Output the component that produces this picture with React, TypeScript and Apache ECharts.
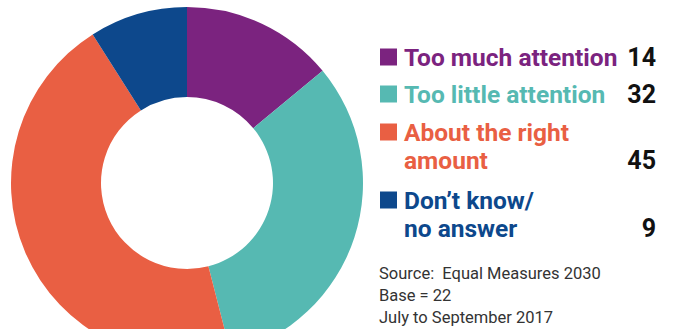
import React, { useEffect, useRef } from "react";
import * as echarts from "echarts";

const categories = ["Too much attention", "Too little attention", "About the right\namount", "Don\u2019t know/\nno answer"];
const values = [14, 32, 45, 9];
const colors = ["#7B237F", "#56B9B2", "#E95F43", "#0D488C"];
const sourceLines = ["Source:  Equal Measures 2030", "Base = 22", "July to September 2017"];

export default function App() {
  const ref = useRef<HTMLDivElement>(null);
  useEffect(() => {
    if (!ref.current) return;
    const chart = echarts.init(ref.current, null, { renderer: "svg" });
    const rowY = [57, 94, 132, 200];
    const lineH = 28;
    const font = "Roboto, 'Noto Sans', sans-serif";
    const graphics: any[] = [];
    categories.forEach((c, i) => {
      const lines = c.split("\n");
      const top = rowY[i];
      graphics.push({
        type: "rect",
        shape: { x: 380, y: top - 8.5, width: 17, height: 17 },
        style: { fill: colors[i] },
      });
      lines.forEach((ln, j) => {
        graphics.push({
          type: "text",
          x: 404,
          y: top + j * lineH,
          style: {
            text: ln,
            fill: colors[i],
            font: `bold 24.5px ${font}`,
            textVerticalAlign: "middle",
          },
        });
      });
      graphics.push({
        type: "text",
        x: 656,
        y: top + (lines.length - 1) * lineH,
        style: {
          text: String(values[i]),
          fill: "#111",
          font: `bold 25px ${font}`,
          textAlign: "right",
          textVerticalAlign: "middle",
        },
      });
    });
    sourceLines.forEach((s, i) => {
      graphics.push({
        type: "text",
        x: 379,
        y: 273 + i * 22,
        style: {
          text: s,
          fill: "#333",
          font: `16.5px ${font}`,
          textVerticalAlign: "middle",
        },
      });
    });
    chart.setOption({
      animation: false,
      series: [
        {
          type: "pie",
          center: [187, 183],
          radius: [86, 176],
          startAngle: 90,
          clockwise: true,
          label: { show: false },
          labelLine: { show: false },
          emphasis: { disabled: true },
          data: values.map((v, i) => ({ name: categories[i], value: v, itemStyle: { color: colors[i] } })),
        },
      ],
      graphic: graphics,
    });
    return () => chart.dispose();
  }, []);
  return <div ref={ref} style={{ width: 674, height: 329, position: "absolute", left: 0, top: 0 }} />;
}
